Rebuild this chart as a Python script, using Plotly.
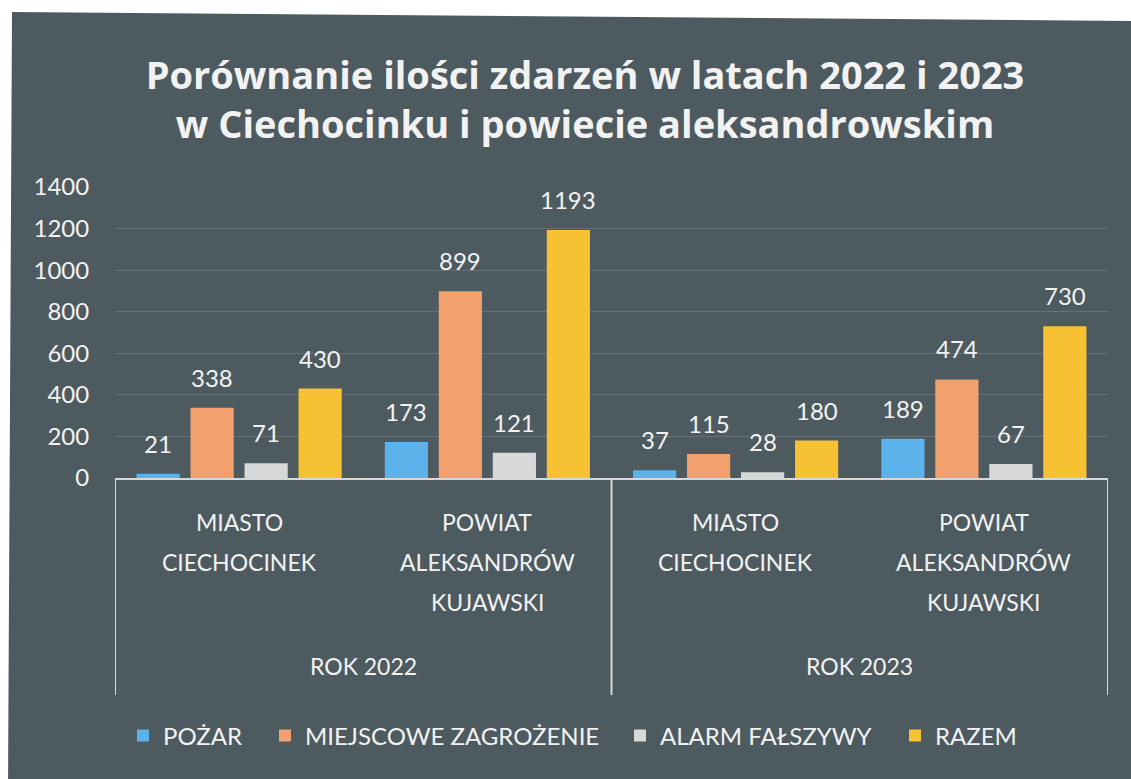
import plotly.graph_objects as go

# ---- data ----
years = ["ROK 2022", "ROK 2023"]
places = ["MIASTO<br>CIECHOCINEK", "POWIAT<br>ALEKSANDRÓW<br>KUJAWSKI"]
series_names = ["POŻAR", "MIEJSCOWE ZAGROŻENIE", "ALARM FAŁSZYWY", "RAZEM"]
pozar = [21, 173, 37, 189]
miejscowe = [338, 899, 115, 474]
alarm = [71, 121, 28, 67]
razem = [430, 1193, 180, 730]
y_ticks = [0, 200, 400, 600, 800, 1000, 1200, 1400]

# ---- styles ----
colors = ["#5cb2ea", "#f2a06e", "#d6d8d9", "#f6c233"]
BG = "#4d5a5f"
TXT = "#f2f2f2"
FONT = "Lato"

W_PX, H_PX = 1131, 779
L, R, T, B = 115, 1108, 187, 478
PW, PH = R - L, B - T


def px2x(px):
    return (px - L) / PW


def py2y(py):
    return (B - py) / PH


bargap = 0.13
n_series = 4
slot = (1 - bargap) / n_series

cats = [(y, p) for y in years for p in places]
xs = list(range(len(cats)))
all_series = [pozar, miejscowe, alarm, razem]

legend_text_x = [163, 305, 660, 935]
legend_ids = ["legend", "legend2", "legend3", "legend4"]

fig = go.Figure()
for name, vals, col, lg in zip(series_names, all_series, colors, legend_ids):
    fig.add_trace(go.Bar(x=xs, y=vals, name=name, marker=dict(color=col, line=dict(width=0)),
                         hoverinfo="x+y", legend=lg))

annotations = []
# data labels
for k, vals in enumerate(all_series):
    for i, v in enumerate(vals):
        annotations.append(dict(
            x=i + (k - (n_series - 1) / 2) * slot, y=v, xref="x", yref="y",
            text=str(v), showarrow=False, yanchor="bottom", yshift=14,
            font=dict(family=FONT, size=24, color=TXT)))

# category labels (one annotation per line)
for i, (yr, pl) in enumerate(cats):
    for j, line in enumerate(pl.split("<br>")):
        annotations.append(dict(
            x=i, y=py2y(522 + 40 * j), xref="x", yref="paper", text=line,
            showarrow=False, xanchor="center", yanchor="middle",
            font=dict(family=FONT, size=23, color=TXT)))
for g, yr in enumerate(years):
    annotations.append(dict(
        x=g * len(places) + (len(places) - 1) / 2, y=py2y(666), xref="x", yref="paper",
        text=yr, showarrow=False, xanchor="center", yanchor="middle",
        font=dict(family=FONT, size=23, color=TXT)))

shapes = []
# group separator lines
for xv in [-0.5, len(places) - 0.5, len(cats) - 0.5]:
    shapes.append(dict(type="line", xref="x", yref="paper", x0=xv, x1=xv,
                       y0=0, y1=py2y(695), line=dict(color="#d8d8d8", width=2)))
# white paper border of the scan (top and left)
shapes.append(dict(type="path", xref="paper", yref="paper", layer="above",
                   path=f"M {px2x(-5)},{py2y(-5)} L {px2x(1140)},{py2y(-5)} L {px2x(1140)},{py2y(21)} "
                        f"L {px2x(12)},{py2y(12)} L {px2x(8)},{py2y(790)} L {px2x(-5)},{py2y(790)} Z",
                   fillcolor="white", line=dict(width=0)))

legend_layouts = {}
for lg, tx in zip(legend_ids, legend_text_x):
    legend_layouts[lg] = dict(orientation="h", x=px2x(tx - 40), xanchor="left",
                              y=py2y(736), yanchor="middle",
                              font=dict(family=FONT, size=24, color=TXT),
                              bgcolor="rgba(0,0,0,0)", itemclick=False)

fig.update_layout(
    width=W_PX, height=H_PX,
    margin=dict(l=L, r=W_PX - R, t=T, b=H_PX - B, autoexpand=False),
    paper_bgcolor=BG, plot_bgcolor=BG,
    barmode="group", bargap=bargap, bargroupgap=0.2,
    title=dict(text="Porównanie ilości zdarzeń w latach 2022 i 2023<br>w Ciechocinku i powiecie aleksandrowskim",
               x=px2x(585), xref="paper", xanchor="center",
               y=1 - 89 / H_PX, yref="container", yanchor="middle",
               font=dict(family="Open Sans", size=38, color=TXT, weight="bold")),
    xaxis=dict(range=[-0.5, len(cats) - 0.5], showticklabels=False, showgrid=False,
               zeroline=False, showline=True, linecolor="#d8d8d8", linewidth=2, fixedrange=True),
    yaxis=dict(range=[0, 1400], tickvals=y_ticks, ticktext=[str(t) for t in y_ticks],
               showgrid=True, gridcolor="rgba(255,255,255,0.14)", gridwidth=1,
               zeroline=False, showline=False, ticks="outside", ticklen=20,
               tickcolor="rgba(0,0,0,0)",
               tickfont=dict(family=FONT, size=24, color=TXT)),
    annotations=annotations, shapes=shapes,
    showlegend=True,
    **legend_layouts,
)

fig.write_html("out.html", config={"displayModeBar": False},
               post_script="document.body.style.margin='0';document.body.style.overflow='hidden';")
